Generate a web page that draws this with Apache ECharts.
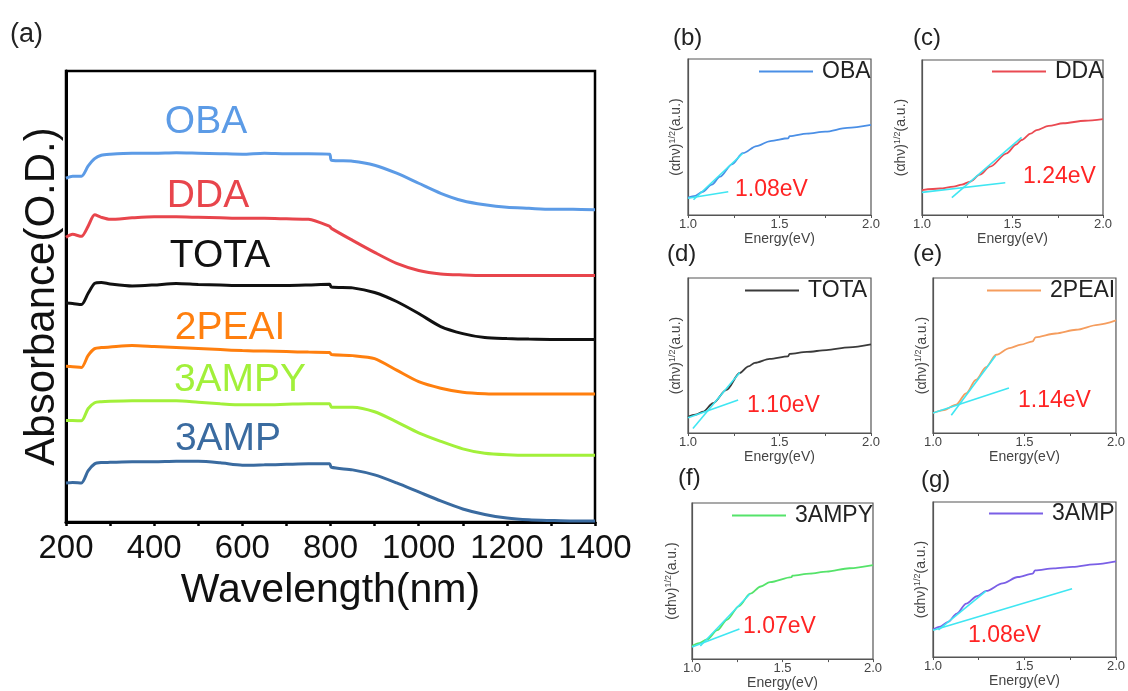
<!DOCTYPE html>
<html>
<head>
<meta charset="utf-8">
<script src="https://cdn.jsdelivr.net/npm/echarts@6/dist/echarts.min.js"></script>
<style>
  html, body { margin: 0; padding: 0; background: #fff; }
  #chart { width: 1128px; height: 691px; }
</style>
</head>
<body>
<div id="chart"></div>
<script>
// (a) absorbance spectra, curves stacked with an offset (arbitrary O.D.)
const wavelength = [200, 215, 235, 250, 265, 280, 300, 350, 400, 450, 500, 550, 600, 650, 700, 750, 798, 802, 850, 900, 950, 1000, 1050, 1100, 1150, 1200, 1250, 1300, 1350, 1400]
const absOBA = [3.43, 3.45, 3.45, 3.55, 3.625, 3.66, 3.67, 3.68, 3.68, 3.685, 3.68, 3.675, 3.67, 3.68, 3.675, 3.675, 3.67, 3.61, 3.60, 3.56, 3.48, 3.38, 3.28, 3.205, 3.165, 3.14, 3.13, 3.12, 3.12, 3.115]
const absDDA = [2.84, 2.87, 2.85, 2.95, 3.065, 3.04, 3.02, 3.035, 3.045, 3.045, 3.04, 3.035, 3.03, 3.03, 3.025, 3.02, 2.95, 2.93, 2.81, 2.69, 2.58, 2.51, 2.475, 2.465, 2.46, 2.46, 2.46, 2.46, 2.46, 2.46]
const absTOTA = [2.185, 2.18, 2.17, 2.28, 2.38, 2.39, 2.375, 2.355, 2.365, 2.38, 2.37, 2.365, 2.36, 2.36, 2.36, 2.365, 2.372, 2.344, 2.336, 2.29, 2.20, 2.08, 1.95, 1.88, 1.84, 1.83, 1.825, 1.822, 1.822, 1.822]
const abs2PEAI = [1.553, 1.55, 1.542, 1.66, 1.73, 1.74, 1.746, 1.76, 1.75, 1.74, 1.73, 1.72, 1.71, 1.705, 1.70, 1.695, 1.692, 1.672, 1.66, 1.63, 1.515, 1.40, 1.335, 1.295, 1.28, 1.277, 1.277, 1.277, 1.277, 1.277]
const abs3AMPY = [1.012, 1.012, 1.01, 1.13, 1.19, 1.20, 1.205, 1.21, 1.21, 1.21, 1.195, 1.18, 1.17, 1.17, 1.175, 1.18, 1.18, 1.146, 1.145, 1.10, 1.00, 0.89, 0.805, 0.73, 0.685, 0.67, 0.665, 0.665, 0.665, 0.665]
const abs3AMP = [0.39, 0.395, 0.39, 0.51, 0.58, 0.593, 0.595, 0.60, 0.60, 0.605, 0.605, 0.59, 0.566, 0.57, 0.575, 0.58, 0.58, 0.546, 0.52, 0.47, 0.39, 0.30, 0.21, 0.13, 0.075, 0.04, 0.022, 0.015, 0.01, 0.01]

// (b)-(g) Tauc plots: [energy eV, (ahv)^1/2 a.u.]
const taucOBA = [[1.0, 11.1], [1.04, 12.3], [1.08, 14.9], [1.13, 19.5], [1.175, 24.6], [1.24, 32.5], [1.30, 39.6], [1.375, 44.2], [1.45, 47.4], [1.548, 49.2], [1.555, 50.6], [1.65, 52.2], [1.75, 53.4], [1.87, 55.8], [2.0, 57.7]]
const taucDDA = [[1.0, 16.1], [1.1, 17.1], [1.174, 18.3], [1.22, 19.6], [1.266, 21.5], [1.32, 26], [1.376, 31.2], [1.468, 39.8], [1.52, 45.5], [1.55, 48.4], [1.6, 52.5], [1.633, 54.8], [1.7, 57.5], [1.78, 59.2], [1.9, 60.8], [2.0, 61.9]]
const taucTOTA = [[1.0, 10.4], [1.04, 11.8], [1.082, 13.7], [1.137, 19.2], [1.21, 27.8], [1.283, 38.7], [1.33, 43], [1.365, 45.2], [1.447, 47.8], [1.547, 49.5], [1.555, 51.1], [1.65, 52.3], [1.757, 53.5], [1.88, 55.3], [2.0, 57.2]]
const tauc2PEAI = [[1.0, 12.9], [1.06, 14.8], [1.127, 18.3], [1.18, 25.5], [1.236, 34.4], [1.29, 42.5], [1.345, 50.5], [1.418, 54.8], [1.48, 57], [1.545, 59.1], [1.56, 61.7], [1.67, 64.2], [1.782, 66.6], [1.9, 69.8], [2.0, 72.6]]
const tauc3AMPY = [[1.0, 8.4], [1.04, 10.2], [1.083, 12.6], [1.14, 18.5], [1.193, 25.2], [1.26, 34], [1.321, 41.9], [1.38, 46.5], [1.431, 49.3], [1.55, 52.5], [1.555, 53.5], [1.65, 54.8], [1.743, 56], [1.87, 58.2], [2.0, 60.2]]
const tauc3AMP = [[1.0, 17.7], [1.04, 19.6], [1.082, 22.6], [1.13, 28], [1.182, 34.5], [1.24, 39.2], [1.291, 42.6], [1.38, 47.5], [1.464, 51.6], [1.545, 53.8], [1.558, 55.9], [1.66, 57.2], [1.764, 58.1], [1.88, 59.8], [2.0, 61.7]]

// linear fits (baseline and absorption edge)
const fitBase = [[[1.0, 10.7], [1.22, 14.9]], [[1.0, 14.6], [1.46, 20.8]], [[1.0, 9.8], [1.274, 21.3]], [[1.0, 12.9], [1.415, 29.0]], [[1.0, 7.8], [1.262, 19.3]], [[1.0, 17.2], [1.76, 44.1]]]
const fitEdge = [[[1.03, 9.8], [1.30, 39.6]], [[1.165, 11.2], [1.55, 50.1]], [[1.027, 2.9], [1.283, 39.1]], [[1.1, 11.4], [1.342, 49.9]], [[1.046, 8.4], [1.321, 41.9]], [[1.03, 17.5], [1.291, 42.6]]]

const sampleNames = ['OBA', 'DDA', 'TOTA', '2PEAI', '3AMPY', '3AMP']
const bandGaps = ['1.08eV', '1.24eV', '1.10eV', '1.14eV', '1.07eV', '1.08eV']
const energyTicks = [1.0, 1.5, 2.0]

const FONT = 'Liberation Sans, Arial, Helvetica, sans-serif'
const mainColors = ['#5c9be6', '#e8454c', '#111111', '#ff7f0e', '#a2f03a', '#3a6ba0']
const smallColors = ['#4a8fe6', '#ea4a52', '#3a3a3a', '#f59d5e', '#55e36a', '#7a5fe6']
const fitColor = '#3fe6f2'

const absData = [absOBA, absDDA, absTOTA, abs2PEAI, abs3AMPY, abs3AMP]
const taucData = [taucOBA, taucDDA, taucTOTA, tauc2PEAI, tauc3AMPY, tauc3AMP]

// small panel boxes (b)..(g)
const boxes = [
  {left: 688, top: 59, width: 183, height: 156, nameGap: 4},
  {left: 922, top: 60, width: 181, height: 155, nameGap: 13},
  {left: 688, top: 278, width: 183, height: 155, nameGap: 4},
  {left: 933, top: 278, width: 184, height: 155, nameGap: 3},
  {left: 692, top: 503, width: 181, height: 159, nameGap: 12},
  {left: 933, top: 502, width: 184, height: 155, nameGap: 4}
]
const legendPos = [[759, 73], [992, 73], [745, 292], [987, 292], [732, 517], [989, 515]]
const gapLabelPos = [[735, 190], [1023, 177], [747, 406], [1018, 401], [743, 627], [968, 636]]
const panelLetterPos = [[673, 38], [913, 38], [667, 254], [913, 254], [678, 478], [921, 480]]
const mainLabelPos = [[206, 122], [208, 196], [220, 256], [230, 328], [240, 380], [228, 439]]

const chart = echarts.init(document.getElementById('chart'))

const grid = [{left: 66, top: 71, width: 529, height: 451, show: true, borderColor: '#000', borderWidth: 2.5}]
const xAxis = [{
  gridIndex: 0, type: 'value', min: 200, max: 1400, interval: 200,
  axisLine: {lineStyle: {color: '#000', width: 3}},
  axisTick: {show: true, length: 4, lineStyle: {color: '#000', width: 2.5}},
  minorTick: {show: true, splitNumber: 2, length: 4, lineStyle: {color: '#000', width: 2.5}},
  splitLine: {show: false},
  axisLabel: {fontSize: 33, color: '#111', fontFamily: FONT, margin: 10, formatter: v => String(v)},
  name: 'Wavelength(nm)', nameLocation: 'middle', nameGap: 46,
  nameTextStyle: {fontSize: 41, color: '#111', fontFamily: FONT}
}]
const yAxis = [{
  gridIndex: 0, type: 'value', min: 0, max: 4.5,
  axisLine: {show: true, lineStyle: {color: '#000', width: 3}},
  axisTick: {show: false}, axisLabel: {show: false}, splitLine: {show: false},
  name: 'Absorbance(O.D.)', nameLocation: 'middle', nameGap: 3,
  nameTextStyle: {fontSize: 42, color: '#111', fontFamily: FONT}
}]
const series = []
const legend = []

sampleNames.forEach((name, i) => {
  series.push({
    name: 'a-' + name, type: 'line', xAxisIndex: 0, yAxisIndex: 0,
    data: wavelength.map((w, k) => [w, absData[i][k]]),
    symbol: 'none', smooth: 0.25, lineStyle: {color: mainColors[i], width: 3}, itemStyle: {color: mainColors[i]}
  })
})

boxes.forEach((b, i) => {
  const gi = i + 1
  grid.push({left: b.left, top: b.top, width: b.width, height: b.height, show: true, borderColor: '#555', borderWidth: 1.2})
  xAxis.push({
    gridIndex: gi, type: 'value', min: 1, max: 2, interval: 0.5,
    axisLine: {lineStyle: {color: '#555', width: 1.2}},
    axisTick: {show: true, length: 3, lineStyle: {color: '#555'}},
    minorTick: {show: true, splitNumber: 2, length: 3, lineStyle: {color: '#555'}},
    splitLine: {show: false},
    axisLabel: {fontSize: 13, color: '#444', fontFamily: FONT, margin: 3,
      formatter: v => energyTicks.includes(v) ? v.toFixed(1) : ''},
    name: 'Energy(eV)', nameLocation: 'middle', nameGap: 15,
    nameTextStyle: {fontSize: 14, color: '#444', fontFamily: FONT}
  })
  yAxis.push({
    gridIndex: gi, type: 'value', min: 0, max: 100,
    axisLine: {show: true, lineStyle: {color: '#555', width: 1.2}},
    axisTick: {show: false}, axisLabel: {show: false}, splitLine: {show: false},
    name: '(αhν){sup|1/2}(a.u.)', nameLocation: 'middle', nameGap: b.nameGap,
    nameTextStyle: {fontSize: 14, color: '#444', fontFamily: FONT,
      rich: {sup: {fontSize: 9, color: '#444', fontFamily: FONT, padding: [0, 0, 7, 0]}}}
  })
  series.push({
    name: 'p-' + sampleNames[i], type: 'line', xAxisIndex: gi, yAxisIndex: gi,
    data: taucData[i], symbol: 'none', smooth: 0.3, smoothMonotone: 'x',
    lineStyle: {color: smallColors[i], width: 1.8}, itemStyle: {color: smallColors[i]}
  })
  series.push({
    name: 'fitb-' + i, type: 'line', xAxisIndex: gi, yAxisIndex: gi, data: fitBase[i],
    symbol: 'none', lineStyle: {color: fitColor, width: 1.6}, z: 3
  })
  series.push({
    name: 'fite-' + i, type: 'line', xAxisIndex: gi, yAxisIndex: gi, data: fitEdge[i],
    symbol: 'none', lineStyle: {color: fitColor, width: 1.6}, z: 3
  })
  legend.push({
    data: ['p-' + sampleNames[i]], left: legendPos[i][0], top: legendPos[i][1] - 13,
    padding: 0, icon: 'rect', itemWidth: 54, itemHeight: 2, selectedMode: false,
    formatter: n => n.slice(2),
    textStyle: {fontSize: 23, color: '#222', fontFamily: FONT, padding: [0, 0, 0, 4]}
  })
})

const graphic = []
graphic.push({type: 'text', left: 10, top: 21, style: {text: '(a)', fontSize: 27, fill: '#222', fontFamily: FONT}})
sampleNames.forEach((name, i) => {
  graphic.push({type: 'text', x: mainLabelPos[i][0], y: mainLabelPos[i][1],
    style: {text: name, fontSize: 39, fill: mainColors[i], fontFamily: FONT, align: 'center', verticalAlign: 'middle'}})
  graphic.push({type: 'text', x: panelLetterPos[i][0], y: panelLetterPos[i][1],
    style: {text: '(' + 'bcdefg'[i] + ')', fontSize: 24, fill: '#222', fontFamily: FONT, verticalAlign: 'middle'}})
  graphic.push({type: 'text', x: gapLabelPos[i][0], y: gapLabelPos[i][1],
    style: {text: bandGaps[i], fontSize: 23, fill: '#ff2424', fontFamily: FONT, verticalAlign: 'middle'}})
})

chart.setOption({
  animation: false,
  backgroundColor: '#fff',
  grid: grid,
  xAxis: xAxis,
  yAxis: yAxis,
  legend: legend,
  series: series,
  graphic: graphic
})
</script>
</body>
</html>
